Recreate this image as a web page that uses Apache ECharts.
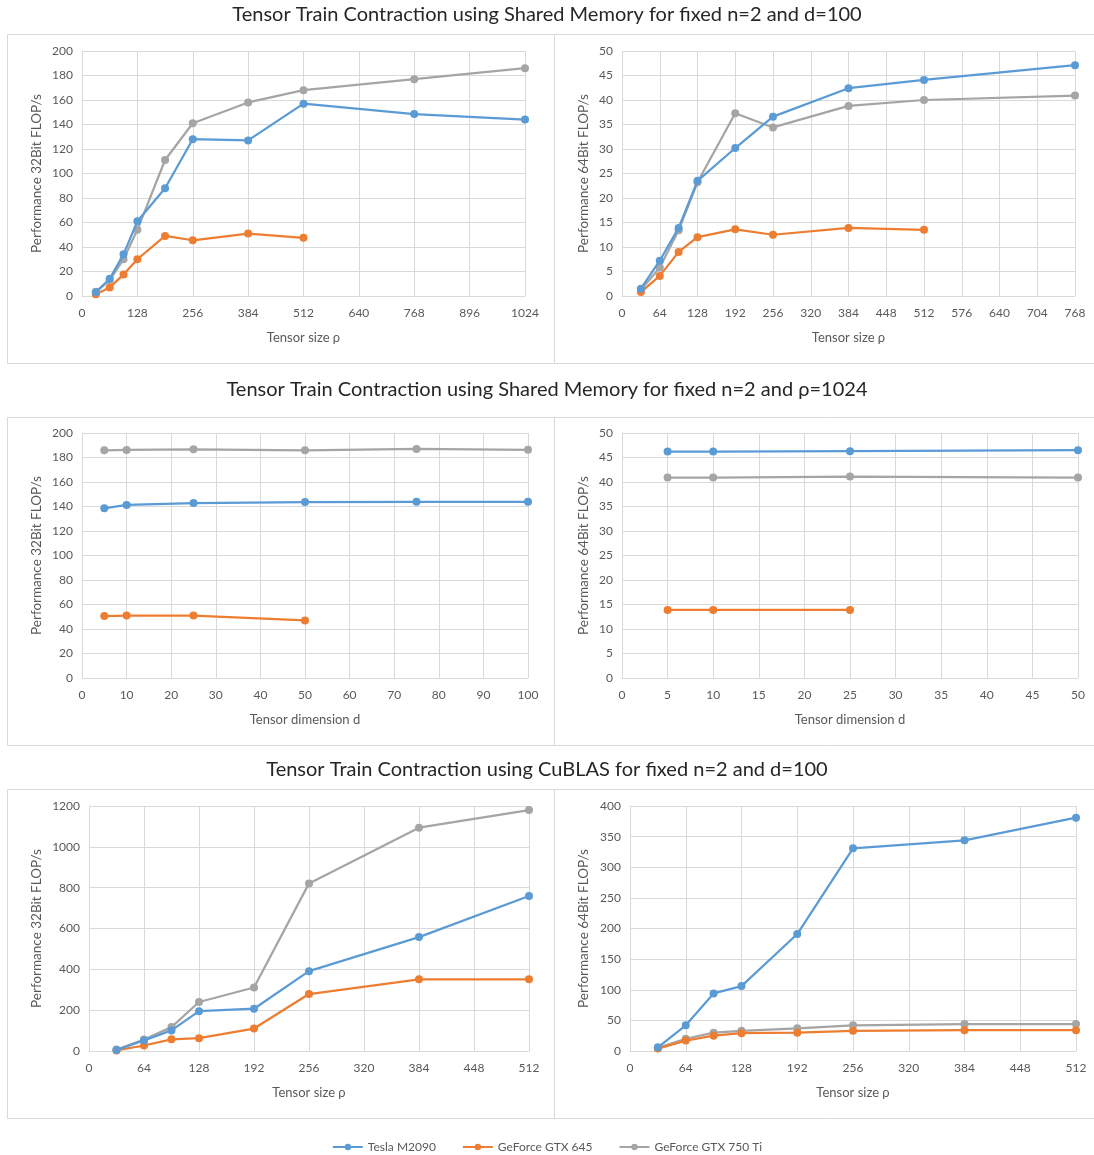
<!DOCTYPE html>
<html>
<head>
<meta charset="utf-8">
<script src="https://cdn.jsdelivr.net/npm/echarts@6/dist/echarts.min.js"></script>
<style>
html,body{margin:0;padding:0;background:#fff;}
#chart{width:1094px;height:1155px;}
</style>
</head>
<body>
<div id="chart"></div>
<script>
// ---- Data ----
const seriesNames = ['Tesla M2090', 'GeForce GTX 645', 'GeForce GTX 750 Ti'];
const colors = ['#5B9BD5', '#ED7D31', '#A5A5A5'];

// Panel 1: shared memory, 32 bit, vs rho (d=100)
const p1X = [32, 64, 96, 128, 192, 256, 384, 512, 768, 1024];
const p1Tesla = [3, 14, 34, 61, 88, 128, 127, 157, 148.5, 144];
const p1Gtx645 = [1.4, 7, 17.5, 30, 49, 45.5, 51, 47.5];
const p1Gtx750 = [3.5, 13, 30, 54, 111, 141, 158, 168, 177, 186];

// Panel 2: shared memory, 64 bit, vs rho (d=100)
const p2X = [32, 64, 96, 128, 192, 256, 384, 512, 768];
const p2Tesla = [1.5, 7.2, 13.9, 23.5, 30.2, 36.6, 42.4, 44.1, 47.1];
const p2Gtx645 = [0.8, 4.1, 9, 12, 13.6, 12.5, 13.9, 13.5];
const p2Gtx750 = [1.2, 5.8, 13.4, 23.2, 37.3, 34.4, 38.8, 40, 40.9];

// Panel 3: shared memory, 32 bit, vs d (rho=1024)
const p3X = [5, 10, 25, 50, 75, 100];
const p3Tesla = [138.5, 141.3, 142.8, 143.6, 143.8, 143.8];
const p3Gtx645 = [50.6, 51, 51, 47];
const p3Gtx750 = [185.9, 186.2, 186.7, 185.9, 187, 186.3];

// Panel 4: shared memory, 64 bit, vs d (rho=1024)
const p4X = [5, 10, 25, 50];
const p4Tesla = [46.2, 46.2, 46.3, 46.5];
const p4Gtx645 = [13.9, 13.9, 13.9];
const p4Gtx750 = [40.9, 40.9, 41.1, 40.9];

// Panel 5: CuBLAS, 32 bit, vs rho (d=100)
const p5X = [32, 64, 96, 128, 192, 256, 384, 512];
const p5Tesla = [5, 52, 101, 195, 207, 391, 558, 759];
const p5Gtx645 = [3, 27, 57, 63, 110, 279, 351, 351];
const p5Gtx750 = [7, 56, 117, 240, 311, 821, 1094, 1180];

// Panel 6: CuBLAS, 64 bit, vs rho (d=100)
const p6X = [32, 64, 96, 128, 192, 256, 384, 512];
const p6Tesla = [6, 42, 94, 106, 191, 331, 344, 381];
const p6Gtx645 = [4, 17, 25, 29, 30, 33, 34, 34];
const p6Gtx750 = [5, 20, 30, 33, 37, 42, 44, 44];

// Titles / axis names
const rowTitles = [
  'Tensor Train Contraction using Shared Memory for fixed n=2 and d=100',
  'Tensor Train Contraction using Shared Memory for fixed n=2 and \u03c1=1024',
  'Tensor Train Contraction using CuBLAS for fixed n=2 and d=100'
];
const yNames = ['Performance 32Bit FLOP/s', 'Performance 64Bit FLOP/s'];
const xNames = ['Tensor size \u03c1', 'Tensor dimension d'];

// Axis ranges
const xAxes = [
  {max: 1024, interval: 128},
  {max: 768, interval: 64},
  {max: 100, interval: 10},
  {max: 50, interval: 5},
  {max: 512, interval: 64},
  {max: 512, interval: 64}
];
const yAxes = [
  {max: 200, interval: 20},
  {max: 50, interval: 5},
  {max: 200, interval: 20},
  {max: 50, interval: 5},
  {max: 1200, interval: 200},
  {max: 400, interval: 50}
];

// ---- Layout ----
const FONT = 'Lato, "Liberation Sans", sans-serif';
const TXT = '#595959';
const GRIDC = '#d9d9d9';

const grids = [
  {left: 82, top: 51, width: 443, height: 245},
  {left: 622, top: 51, width: 453, height: 245},
  {left: 82, top: 433, width: 446, height: 245},
  {left: 622, top: 433, width: 456, height: 245},
  {left: 89, top: 806, width: 440, height: 245},
  {left: 630, top: 806, width: 446, height: 245}
];
const yNameGaps = [38, 31, 38, 31, 45, 39];

const panels = [
  {x: p1X, d: [p1Tesla, p1Gtx645, p1Gtx750]},
  {x: p2X, d: [p2Tesla, p2Gtx645, p2Gtx750]},
  {x: p3X, d: [p3Tesla, p3Gtx645, p3Gtx750]},
  {x: p4X, d: [p4Tesla, p4Gtx645, p4Gtx750]},
  {x: p5X, d: [p5Tesla, p5Gtx645, p5Gtx750]},
  {x: p6X, d: [p6Tesla, p6Gtx645, p6Gtx750]}
];

const plain = v => String(v);
const xAxisOpts = [], yAxisOpts = [], series = [];
grids.forEach((g, i) => {
  const row = Math.floor(i / 2);
  xAxisOpts.push({
    type: 'value', gridIndex: i, min: 0, max: xAxes[i].max, interval: xAxes[i].interval,
    name: row === 1 ? xNames[1] : xNames[0],
    nameLocation: 'middle', nameGap: 35,
    nameTextStyle: {color: TXT, fontSize: 13, fontFamily: FONT},
    axisLine: {show: true, lineStyle: {color: GRIDC, width: 1}},
    axisTick: {show: false},
    axisLabel: {color: TXT, fontSize: 12, fontFamily: FONT, margin: 11, formatter: plain},
    splitLine: {show: true, lineStyle: {color: GRIDC, width: 1}}
  });
  yAxisOpts.push({
    type: 'value', gridIndex: i, min: 0, max: yAxes[i].max, interval: yAxes[i].interval,
    name: yNames[i % 2],
    nameLocation: 'middle', nameGap: yNameGaps[i],
    nameTextStyle: {color: TXT, fontSize: 13.5, fontFamily: FONT},
    axisLine: {show: true, lineStyle: {color: GRIDC, width: 1}},
    axisTick: {show: false},
    axisLabel: {color: TXT, fontSize: 12, fontFamily: FONT, margin: 9, formatter: plain},
    splitLine: {show: true, lineStyle: {color: GRIDC, width: 1}}
  });
  panels[i].d.forEach((vals, s) => {
    series.push({
      type: 'line', name: seriesNames[s], xAxisIndex: i, yAxisIndex: i,
      data: vals.map((v, k) => [panels[i].x[k], v]),
      symbol: 'circle', symbolSize: 8,
      lineStyle: {width: 2.25, color: colors[s]},
      itemStyle: {color: colors[s]},
      z: s === 2 ? 2 : (s === 0 ? 4 : 3)
    });
  });
});

// panel borders
const boxes = [
  [7, 34, 547, 329], [554, 34, 545, 329],
  [7, 417, 547, 328], [554, 417, 545, 328],
  [7, 789, 547, 329], [554, 789, 545, 329]
];
const graphics = boxes.map(b => ({
  type: 'rect', shape: {x: b[0] + 0.5, y: b[1] + 0.5, width: b[2], height: b[3]},
  style: {fill: null, stroke: GRIDC, lineWidth: 1}, silent: true, z: -1
}));

const titleTops = [5, 380, 760];
const option = {
  animation: false,
  backgroundColor: '#fff',
  color: colors,
  title: rowTitles.map((t, r) => ({
    text: t, left: 'center', top: titleTops[r], padding: 0,
    textStyle: {color: '#262626', fontSize: 20, fontWeight: 'normal', fontFamily: FONT}
  })),
  legend: {
    data: seriesNames, top: 1136, left: 'center',
    itemWidth: 30, itemHeight: 8, itemGap: 26,
    textStyle: {color: TXT, fontSize: 12, fontFamily: FONT}
  },
  grid: grids,
  xAxis: xAxisOpts,
  yAxis: yAxisOpts,
  series: series,
  graphic: graphics
};

const chart = echarts.init(document.getElementById('chart'), null, {renderer: 'canvas'});
chart.setOption(option);
</script>
</body>
</html>
